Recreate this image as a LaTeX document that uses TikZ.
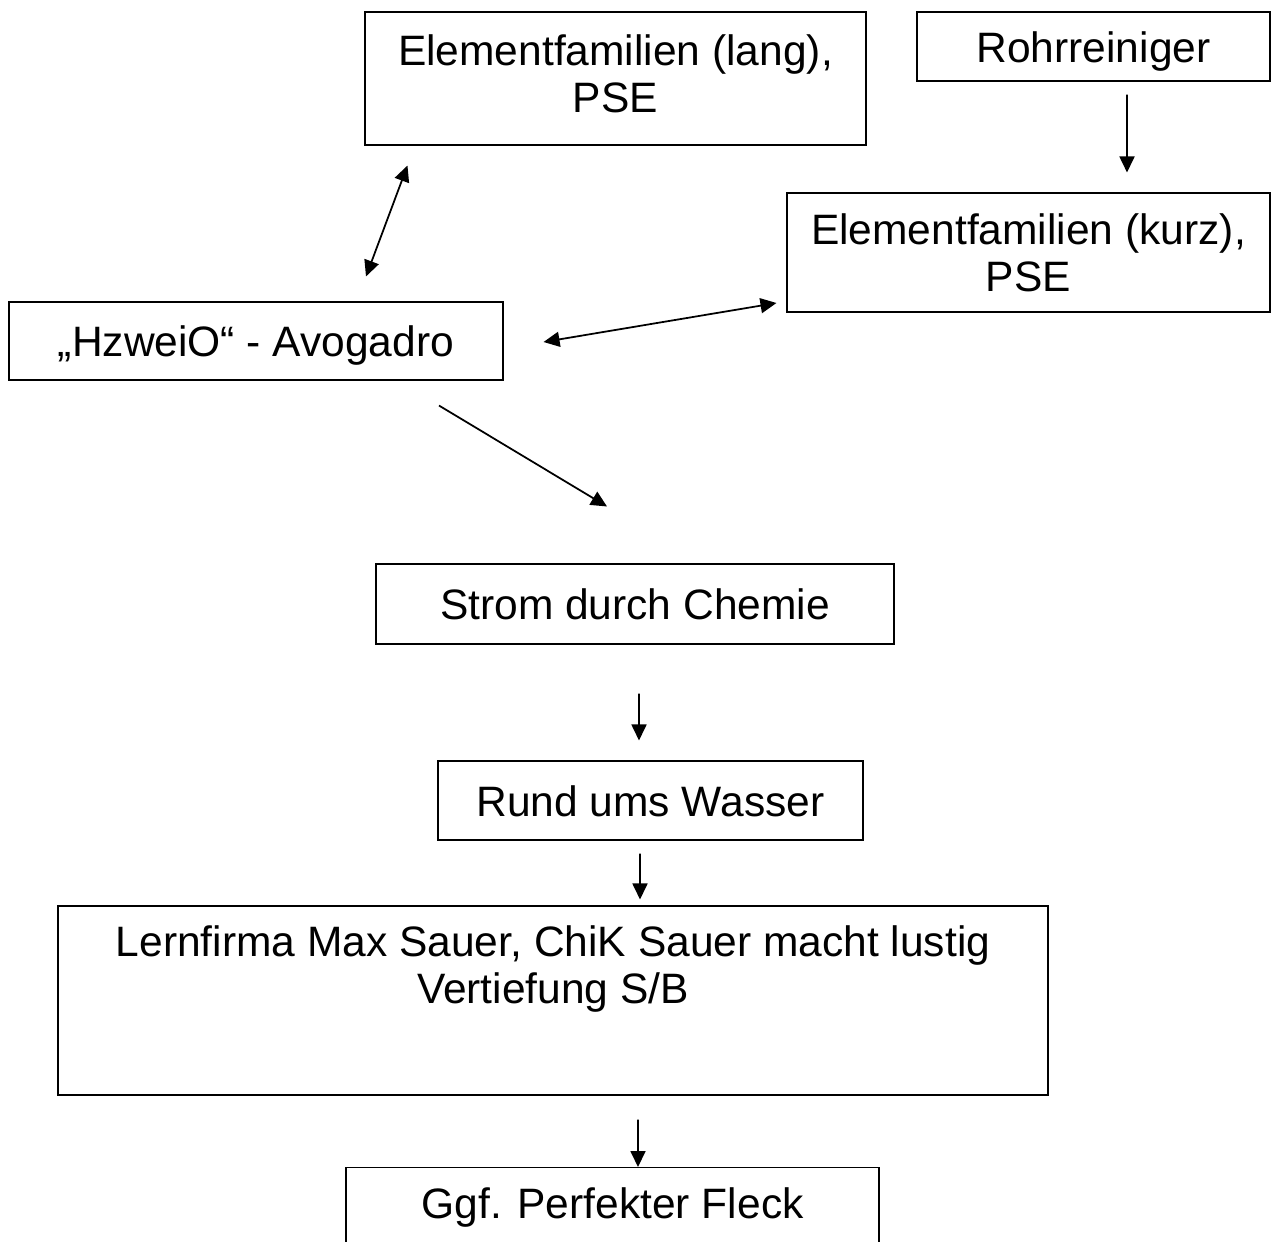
\documentclass[tikz,border=0pt]{standalone}
\usepackage{fontspec}
\setmainfont{Liberation Sans}
\usetikzlibrary{arrows.meta}

\begin{document}
\begin{tikzpicture}[
	box/.style={draw,line width=0.6pt,inner sep=0pt,align=center,font=\fontsize{24.2}{26.75}\selectfont},
	einzeilig/.style={text height=0.62cm,text depth=0pt},
	pfeil/.style={line width=1pt,-{Triangle[length=0.32cm,width=0.3cm]}},
	doppelpfeil/.style={line width=1pt,{Triangle[length=0.32cm,width=0.3cm]}-{Triangle[length=0.32cm,width=0.3cm]}}]
		\clip (0,0) rectangle (25.52,-24.82);
		\node[box,minimum width=10.02cm,minimum height=2.66cm,text depth=0.2cm] (lang) at (12.31,-1.57) {Elementfamilien (lang),\\PSE};
		\node[box,einzeilig,minimum width=7.06cm,minimum height=1.38cm] (rohr) at (21.87,-0.93) {Rohrreiniger};
		\node[box,minimum width=9.66cm,minimum height=2.38cm] (kurz) at (20.57,-5.05) {Elementfamilien (kurz),\\PSE};
		\node[box,einzeilig,minimum width=9.88cm,minimum height=1.56cm] (hzwei) at (5.12,-6.82) {„HzweiO“ - Avogadro};
		\node[box,einzeilig,minimum width=10.36cm,minimum height=1.6cm] (strom) at (12.7,-12.08) {Strom durch Chemie};
		\node[box,einzeilig,minimum width=8.5cm,minimum height=1.58cm] (rund) at (13.01,-16.01) {Rund ums Wasser};
		\node[box,minimum width=19.8cm,minimum height=3.78cm] (lern) at (11.06,-20.01) {Lernfirma Max Sauer, ChiK Sauer macht lustig\\Vertiefung S/B\\[0.5cm]\mbox{}};
		\node[box,anchor=north,minimum width=10.66cm,text height=0.6cm,text depth=1.2cm,inner ysep=0.42cm] (fleck) at (12.25,-23.34) {Ggf. Perfekter Fleck};
		\draw[doppelpfeil] ([xshift=0.86cm,yshift=-0.4cm]lang.south west) -- ([xshift=2.2cm,yshift=0.5cm]hzwei.north);
		\draw[doppelpfeil] ([xshift=0.8cm,yshift=-0.02cm]hzwei.east) -- ([xshift=-0.2cm,yshift=-1.01cm]kurz.west);
		\draw[pfeil] ([xshift=3.66cm,yshift=-0.5cm]hzwei.south) -- ([xshift=-0.56cm,yshift=1.14cm]strom.north);
		\draw[pfeil] ([xshift=0.67cm,yshift=-0.26cm]rohr.south) -- ([xshift=1.97cm,yshift=0.4cm]kurz.north);
		\draw[pfeil] ([xshift=0.08cm,yshift=-0.98cm]strom.south) -- ([xshift=-0.23cm,yshift=0.4cm]rund.north);
		\draw[pfeil] ([xshift=-0.21cm,yshift=-0.26cm]rund.south) -- ([xshift=1.74cm,yshift=0.12cm]lern.north);
		\draw[pfeil] ([xshift=1.7cm,yshift=-0.48cm]lern.south) -- ([xshift=0.51cm]fleck.north);
\end{tikzpicture}
\end{document}
